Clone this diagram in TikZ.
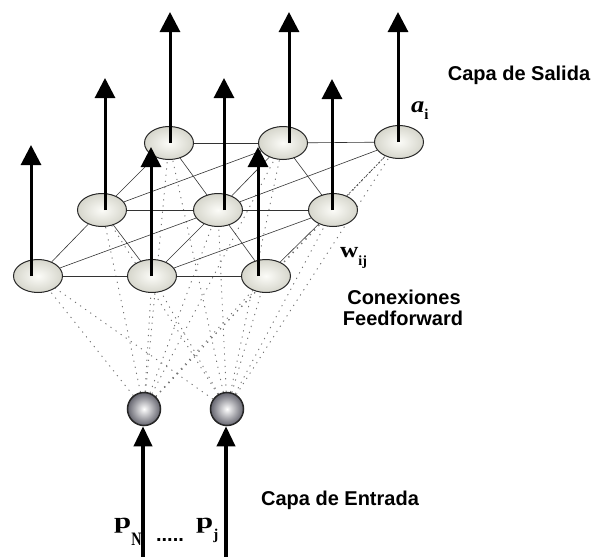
\documentclass[tikz,border=0pt]{standalone}
\usepackage{fontspec}
\usepackage{graphicx}
\setmainfont{Liberation Serif}
\setsansfont{Liberation Sans}
\usetikzlibrary{arrows.meta,shapes.geometric,backgrounds}

\definecolor{unitin}{RGB}{252,252,248}
\definecolor{unitout}{RGB}{214,214,204}
\definecolor{inputout}{RGB}{100,100,110}

\begin{document}
\begin{tikzpicture}[x=1pt,y=1pt,
  unit/.style={ellipse, draw=black!85, line width=1pt, minimum width=49pt,
    minimum height=33pt, inner sep=0pt, inner color=unitin, outer color=unitout},
  inunit/.style={circle, draw=black!85, line width=1.5pt, minimum size=33pt,
    inner sep=0pt, inner color=white, outer color=inputout},
  link/.style={draw=black!80, line width=0.6pt},
  ffwd/.style={draw=black!55, line width=0.9pt, dash pattern=on 1.2pt off 5pt},
  outarrow/.style={line width=3pt, -{Triangle[width=20pt,length=20pt]}},
  inarrow/.style={line width=3.5pt, -{Triangle[width=18pt,length=20pt]}},
  caption/.style={font=\sffamily\bfseries\fontsize{20}{22}\selectfont, inner sep=0pt},
  symb/.style={inner sep=0pt, anchor=base west, font=\bfseries},
]
\useasboundingbox (0,0) rectangle (592,-557);

% output layer: back, middle and front rows
\node[unit] (B1) at (169,-143) {};
\node[unit] (B2) at (283,-143) {};
\node[unit] (B3) at (399,-142) {};
\node[unit] (M1) at (102,-210) {};
\node[unit] (M2) at (218,-210) {};
\node[unit] (M3) at (333,-210) {};
\node[unit] (F1) at (38,-276) {};
\node[unit] (F2) at (152,-276) {};
\node[unit] (F3) at (266,-276) {};

% input layer
\node[inunit] (IN) at (144,-409) {};
\node[inunit] (IJ) at (227,-409) {};

\begin{pgfonlayer}{background}
  % feedforward connections from every input to every output unit
  \foreach \i in {IN,IJ}
    \foreach \o in {B1,B2,B3,M1,M2,M3,F1,F2,F3}
      \draw[ffwd] (\i) -- (\o);
  % lateral connections inside the output layer
  \foreach \a/\b in {B1/B2,B2/B3,M1/M2,M2/M3,F1/F2,F2/F3,
                     F1/M1,F2/M2,F3/M3,M1/B1,M2/B2,
                     F1/M2,F2/M3,M1/B2,M2/B3,
                     M1/F2,M2/F3,B1/M2,B2/M3}
    \draw[link] (\a) -- (\b);
  \draw[link, dash pattern=on 2pt off 1.5pt] (M3) -- (B3);
\end{pgfonlayer}

% outputs
\draw[outarrow] ([xshift=1pt]B1.center)  -- ++(0,131);
\draw[outarrow] ([xshift=6pt]B2.center)  -- ++(0,131);
\draw[outarrow] ([xshift=-1pt]B3.center) -- ++(0,130);
\draw[outarrow] ([xshift=3pt]M1.center)  -- ++(0,132);
\draw[outarrow] ([xshift=6pt]M2.center)  -- ++(0,132);
\draw[outarrow] ([xshift=-1pt]M3.center) -- ++(0,131);
\draw[outarrow] ([xshift=-7pt]F1.center) -- ++(0,131);
\draw[outarrow] ([xshift=-1pt]F2.center) -- ++(0,129);
\draw[outarrow] ([xshift=-8pt]F3.center) -- ++(0,129);

% inputs
\coordinate (sN) at (143,-557);
\coordinate (sJ) at (226,-557);
\draw[inarrow] (sN) -- (sN |- IN.south);
\draw[inarrow] (sJ) -- (sJ |- IJ.south);

% labels
\node[caption] (salida) at (519,-75) {Capa de Salida};
\node[caption] (conex) at (404,-297) {Conexiones};
\node[caption] (feedf) at (403,-318) {Feedforward};
\node[caption] (entrada) at (340,-500) {Capa de Entrada};

\node[symb] (ai) at (411,-112)
  {\scalebox{1.15}[1]{\fontsize{23}{23}\selectfont\itshape a}\raisebox{-7pt}{\fontsize{15}{15}\selectfont i}};
\node[symb] (wij) at (340,-257)
  {\scalebox{1.15}[1]{\fontsize{22}{22}\selectfont w}\raisebox{-8pt}{\fontsize{14}{14}\selectfont ij}};
\node[symb] (pN) at (114,-528)
  {\scalebox{1.4}[1]{\fontsize{22}{22}\selectfont p}\raisebox{-17pt}{\scalebox{0.75}[1]{\fontsize{19}{19}\selectfont N}}};
\node[symb] (pj) at (196,-528)
  {\scalebox{1.4}[1]{\fontsize{22}{22}\selectfont p}\raisebox{-11pt}{\fontsize{15}{15}\selectfont j}};
\node[inner sep=0pt, anchor=base, font=\sffamily\bfseries\fontsize{20}{20}\selectfont] (dots) at (170,-541) {.....};
\end{tikzpicture}
\end{document}
